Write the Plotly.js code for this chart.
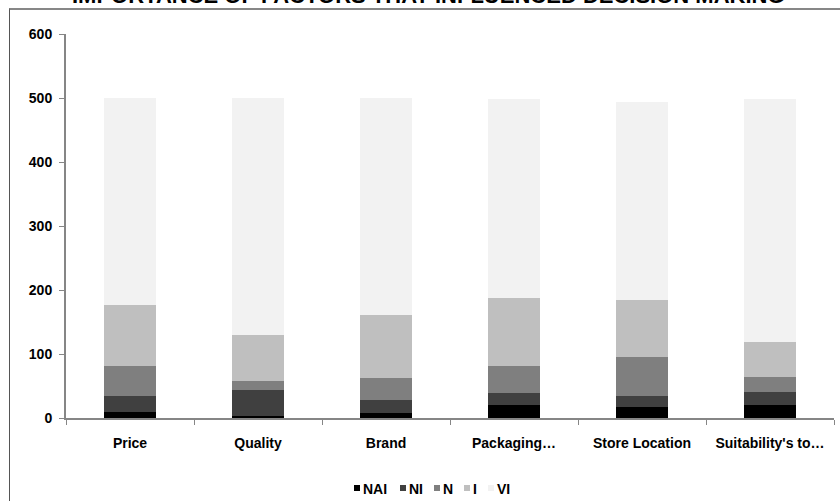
<!DOCTYPE html>
<html>
<head>
<meta charset="utf-8">
<script src="https://cdn.plot.ly/plotly-3.0.1.min.js"></script>
<style>
  html, body { margin: 0; padding: 0; background: #ffffff; overflow: hidden; }
  #wrap { position: relative; width: 840px; height: 501px; overflow: hidden; }
  #chart { width: 840px; height: 501px; }
  /* chart frame: only its top and left edges fall inside the page */
  #frame {
    position: absolute; left: 9px; top: 8px; width: 900px; height: 600px;
    border-top: 2px solid #878787; border-left: 1px solid #555555;
    pointer-events: none; z-index: 10;
  }
</style>
</head>
<body>
<div id="wrap">
  <div id="chart"></div>
  <div id="frame"></div>
</div>
<script>
// Factors rated by respondents
const factors = ["Price", "Quality", "Brand", "Packaging\u2026", "Store Location", "Suitability's to\u2026"];

// Number of respondents per importance rating
const nai = [10, 3, 8, 21, 17, 21];         // Not At all Important
const ni  = [24, 41, 20, 18, 17, 20];       // Not Important
const neu = [48, 14, 34, 42, 61, 23];       // Neutral
const imp = [94, 72, 99, 106, 90, 55];      // Important
const vi  = [324, 370, 339, 312, 309, 380]; // Very Important

const seriesNames = ["NAI", "NI", "N", "I", "VI"];
const seriesValues = [nai, ni, neu, imp, vi];
const seriesColors = ["#000000", "#404040", "#7f7f7f", "#bfbfbf", "#f2f2f2"];

const yTicks = [0, 100, 200, 300, 400, 500, 600];

const titleText = "IMPORTANCE OF FACTORS THAT INFLUENCED DECISION MAKING";

const font = "Liberation Sans, Arial, Helvetica, sans-serif";

// plot area geometry in pixels (used to place the title and legend)
const W = 840, H = 501;
const M = { l: 66, r: 6, t: 34, b: 83 };
const plotW = W - M.l - M.r, plotH = H - M.t - M.b;
const px = x => (x - M.l) / plotW;          // pixel x -> paper x
const py = y => (H - M.b - y) / plotH;      // pixel y -> paper y

const traces = seriesNames.map((name, i) => ({
  type: "bar",
  name: name,
  x: factors,
  y: seriesValues[i],
  marker: { color: seriesColors[i], line: { width: 0 } },
  showlegend: false,
  hoverinfo: "x+y+name"
}));

// compact legend: small square swatch followed by the series label
const legendLeft = [354, 400, 434, 464, 488];
const legendY = 489;
const shapes = [];
const annotations = [];
seriesNames.forEach((name, i) => {
  shapes.push({
    type: "rect", xref: "paper", yref: "paper",
    x0: px(legendLeft[i]), x1: px(legendLeft[i] + 6),
    y0: py(legendY - 4), y1: py(legendY + 2),
    fillcolor: seriesColors[i], line: { width: 0 }
  });
  annotations.push({
    text: name, xref: "paper", yref: "paper",
    x: px(legendLeft[i] + 7), xanchor: "left",
    y: py(legendY), yanchor: "middle",
    showarrow: false,
    font: { family: font, size: 14, color: "#000000", weight: "bold" }
  });
});

// chart title, sitting above the frame
annotations.push({
  text: titleText, xref: "paper", yref: "paper",
  x: px(428), xanchor: "center",
  y: py(9.6), yanchor: "bottom",
  showarrow: false,
  font: { family: font, size: 22, color: "#000000", weight: "bold" }
});

const layout = {
  width: W,
  height: H,
  barmode: "stack",
  bargap: 0.593,
  showlegend: false,
  paper_bgcolor: "#ffffff",
  plot_bgcolor: "#ffffff",
  margin: { l: M.l, r: M.r, t: M.t, b: M.b, pad: 0, autoexpand: false },
  font: { family: font, size: 14, color: "#000000", weight: "bold" },
  xaxis: {
    type: "category",
    showgrid: false,
    showline: true,
    linecolor: "#868686",
    linewidth: 2,
    ticks: "outside",
    tickson: "boundaries",
    ticklen: 5,
    tickwidth: 1,
    tickcolor: "#868686",
    ticklabelstandoff: 11,
    tickfont: { family: font, size: 14, color: "#000000", weight: "bold" },
    automargin: false,
    fixedrange: true
  },
  yaxis: {
    range: [0, 600],
    tickvals: yTicks,
    showgrid: false,
    zeroline: false,
    showline: true,
    linecolor: "#868686",
    linewidth: 2,
    ticks: "outside",
    ticklen: 5,
    tickwidth: 1,
    tickcolor: "#868686",
    ticklabelstandoff: 4,
    tickfont: { family: font, size: 14, color: "#000000", weight: "bold" },
    automargin: false,
    fixedrange: true
  },
  shapes: shapes,
  annotations: annotations
};

Plotly.newPlot("chart", traces, layout, { displayModeBar: false });
</script>
</body>
</html>
